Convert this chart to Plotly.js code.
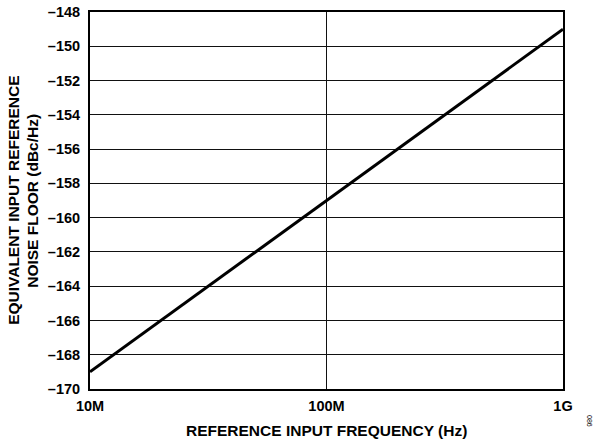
<!DOCTYPE html>
<html><head><meta charset="utf-8">
<script src="https://cdn.plot.ly/plotly-3.0.1.min.js"></script>
<style>html,body{margin:0;padding:0;background:#fff}#chart{width:597px;height:441px}</style>
</head><body><div id="chart"></div>
<script>
const freqHz = [1e7, 1e9];
const noiseFloor = [-169, -149];
const yTickVals = [-170,-168,-166,-164,-162,-160,-158,-156,-154,-152,-150,-148];
const yTickText = yTickVals.map(v => '<b>\u2013' + Math.abs(v) + '</b>');
const xTickVals = [1e7, 1e8, 1e9];
const xTickText = ['<b>10M</b>', '<b>100M</b>', '<b>1G</b>'];

const FAM = 'Liberation Sans, Arial, sans-serif';
Plotly.newPlot('chart', [{
  x: freqHz, y: noiseFloor, type: 'scatter', mode: 'lines',
  line: {color: '#000', width: 3}
}], {
  width: 597, height: 441,
  margin: {l: 90, r: 34, t: 12, b: 52},
  showlegend: false,
  paper_bgcolor: '#fff', plot_bgcolor: '#fff',
  font: {family: FAM, size: 14, color: '#000'},
  xaxis: {
    type: 'log', range: [7, 9],
    tickvals: xTickVals, ticktext: xTickText,
    tickfont: {family: FAM, size: 14.5, color: '#000'},
    ticklabelstandoff: 3,
    showgrid: true, gridcolor: '#111', gridwidth: 1,
    showline: true, linecolor: '#000', linewidth: 2, mirror: true,
    ticks: '', zeroline: false
  },
  yaxis: {
    range: [-170, -148],
    tickvals: yTickVals, ticktext: yTickText,
    tickfont: {family: FAM, size: 14.5, color: '#000'},
    ticklabelstandoff: 5,
    showgrid: true, gridcolor: '#111', gridwidth: 1,
    showline: true, linecolor: '#000', linewidth: 2, mirror: true,
    ticks: '', zeroline: false
  },
  annotations: [
    {text: '<b>REFERENCE INPUT FREQUENCY (Hz)</b>', xref: 'paper', yref: 'paper',
     x: 0.5, y: -0.11, xanchor: 'center', yanchor: 'middle', showarrow: false,
     font: {family: FAM, size: 15.5, color: '#000'}},
    {text: '<b>EQUIVALENT INPUT REFERENCE</b>', xref: 'paper', yref: 'paper',
     x: -0.162, y: 0.5, xanchor: 'center', yanchor: 'middle', showarrow: false, textangle: -90,
     font: {family: FAM, size: 15.5, color: '#000'}},
    {text: '<b>NOISE FLOOR (dBc/Hz)</b>', xref: 'paper', yref: 'paper',
     x: -0.122, y: 0.5, xanchor: 'center', yanchor: 'middle', showarrow: false, textangle: -90,
     font: {family: FAM, size: 15.5, color: '#000'}},
    {text: '086', xref: 'paper', yref: 'paper', x: 1.057, y: -0.085,
     xanchor: 'center', yanchor: 'middle',
     showarrow: false, textangle: 90, font: {family: FAM, size: 7, color: '#000'}}
  ]
}, {staticPlot: true});
</script></body></html>
